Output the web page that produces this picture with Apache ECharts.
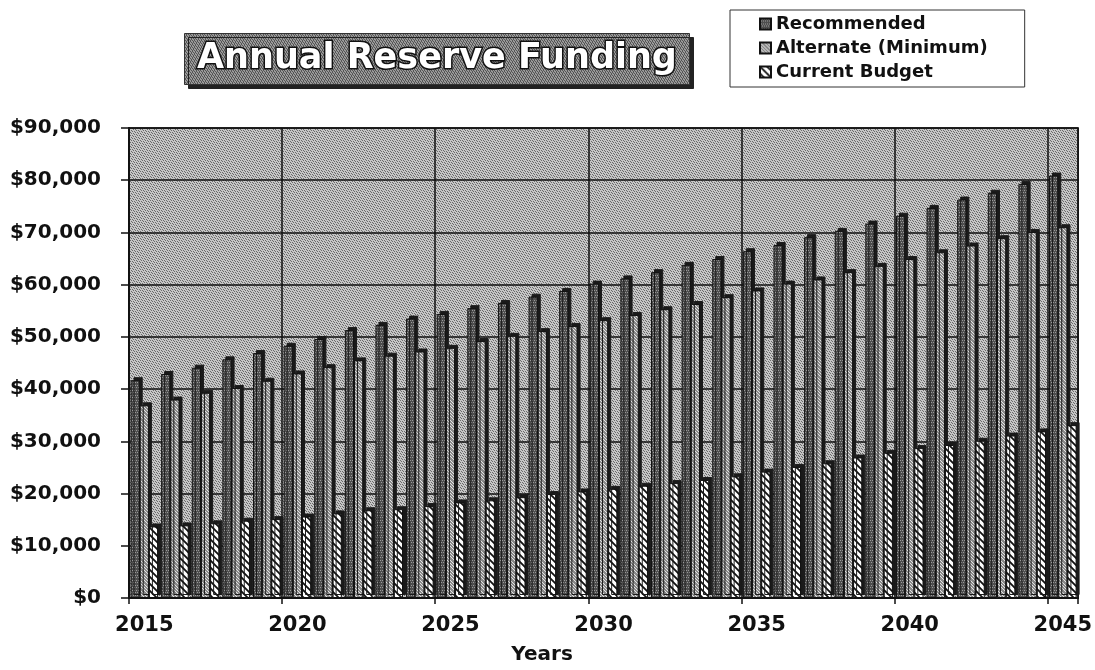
<!DOCTYPE html>
<html>
<head>
<meta charset="utf-8">
<style>
  html, body { margin: 0; padding: 0; background: #ffffff; }
  #chart { width: 1095px; height: 670px; }
</style>
<script src="https://cdn.jsdelivr.net/npm/echarts@6/dist/echarts.min.js"></script>
</head>
<body>
<div id="chart"></div>
<script>
// ---- data ----
const years = ['2015','2016','2017','2018','2019','2020','2021','2022','2023','2024',
               '2025','2026','2027','2028','2029','2030','2031','2032','2033','2034',
               '2035','2036','2037','2038','2039','2040','2041','2042','2043','2044','2045'];
const recommended = [41700, 42900, 44100, 45700, 46900, 48300, 49600, 51300, 52300, 53500,
                     54400, 55500, 56500, 57700, 58800, 60200, 61200, 62400, 63800, 64900,
                     66400, 67600, 69100, 70300, 71700, 73200, 74700, 76300, 77600, 79300, 80900];
const alternate = [36900, 38000, 39300, 40200, 41600, 43000, 44200, 45500, 46400, 47200,
                   47900, 49200, 50200, 51100, 52100, 53200, 54200, 55300, 56300, 57600,
                   58900, 60200, 61000, 62400, 63600, 64900, 66200, 67500, 68900, 70100, 71000];
const currentBudget = [13700, 13900, 14300, 14800, 15100, 15600, 16200, 16800, 17000, 17600,
                       18300, 18700, 19300, 19900, 20400, 20900, 21500, 22000, 22600, 23300,
                       24200, 25100, 25800, 26900, 27800, 28700, 29300, 30100, 31100, 31900, 33100];
const seriesNames = ['Recommended', 'Alternate (Minimum)', 'Current Budget'];
const yMin = 0, yMax = 90000, yStep = 10000;

// ---- texture helpers (deterministic, style only) ----
function stipple(bg, fg, test, size) {
  const c = document.createElement('canvas');
  c.width = size; c.height = size;
  const ctx = c.getContext('2d');
  ctx.fillStyle = bg; ctx.fillRect(0, 0, size, size);
  ctx.fillStyle = fg;
  for (let y = 0; y < size; y++) for (let x = 0; x < size; x++) {
    if (test(x, y)) ctx.fillRect(x, y, 1, 1);
  }
  return { image: c, repeat: 'repeat' };
}
function hatch() {
  const s = 7;
  const c = document.createElement('canvas');
  c.width = s; c.height = s;
  const ctx = c.getContext('2d');
  ctx.fillStyle = '#ffffff'; ctx.fillRect(0, 0, s, s);
  ctx.strokeStyle = '#111111'; ctx.lineWidth = 1.8;
  ctx.beginPath();
  ctx.moveTo(-1, -1); ctx.lineTo(s + 1, s + 1);
  ctx.moveTo(-1, s - 1); ctx.lineTo(1, s + 1);
  ctx.moveTo(s - 1, -1); ctx.lineTo(s + 1, 1);
  ctx.stroke();
  return { image: c, repeat: 'repeat' };
}
const bgPattern = stipple('#c6c6c6', '#6a6a6a', (x, y) => (x * 3 + y * 5) % 7 < 2, 14);
const titlePattern = stipple('#9a9a9a', '#555555', (x, y) => (x * 3 + y * 5) % 7 < 3, 14);
const recPattern = stipple('#4e4e4e', '#9a9a9a', (x, y) => (x * 5 + y * 3) % 10 < 2, 10);
const altPattern = stipple('#8a8a8a', '#e2e2e2', (x, y) => (x * 3 + y * 7) % 10 < 3, 10);
const curPattern = hatch();

const FONT = 'DejaVu Sans';
const barStyle = (pat) => ({
  color: pat,
  borderColor: '#111',
  borderWidth: 1,
  shadowColor: '#1a1a1a',
  shadowBlur: 0,
  shadowOffsetX: 3,
  shadowOffsetY: -3
});

const chart = echarts.init(document.getElementById('chart'), null, { renderer: 'canvas' });
chart.setOption({
  animation: false,
  backgroundColor: '#ffffff',
  title: {
    text: 'Annual Reserve Funding',
    left: 186, top: 35,
    padding: [6, 11, 7, 11],
    backgroundColor: titlePattern,
    borderColor: '#333', borderWidth: 1,
    shadowColor: '#222', shadowBlur: 0, shadowOffsetX: 4, shadowOffsetY: 4,
    textStyle: {
      fontFamily: FONT, fontWeight: 'bold', fontSize: 35, color: '#ffffff',
      textBorderColor: '#111', textBorderWidth: 3,
      textShadowColor: '#000', textShadowOffsetX: 2, textShadowOffsetY: 2, textShadowBlur: 0
    }
  },
  legend: {
    orient: 'vertical',
    left: 730, top: 10,
    padding: [4, 37, 5, 29],
    borderColor: '#333', borderWidth: 1,
    itemWidth: 11, itemHeight: 11, itemGap: 4,
    icon: 'rect',
    data: seriesNames,
    textStyle: { fontFamily: FONT, fontWeight: 'bold', fontSize: 18, color: '#111', lineHeight: 20 }
  },
  grid: {
    left: 129, right: 14, top: 128, bottom: 70,
    show: true, backgroundColor: bgPattern, borderColor: '#111', borderWidth: 1.5
  },
  xAxis: {
    type: 'category',
    data: years,
    boundaryGap: true,
    name: 'Years',
    nameLocation: 'middle',
    nameGap: 47,
    nameTextStyle: { fontFamily: FONT, fontWeight: 'bold', fontSize: 20, color: '#111', padding: [0, 123, 0, 0] },
    axisLine: { show: true, lineStyle: { color: '#111', width: 2 } },
    axisTick: { show: true, interval: 4, length: 6, lineStyle: { color: '#111', width: 1.5 } },
    axisLabel: { interval: 4, margin: 17, fontFamily: FONT, fontWeight: 'bold', fontSize: 21, color: '#111' },
    splitLine: { show: true, interval: 4, lineStyle: { color: '#111', width: 1.5 } }
  },
  yAxis: {
    type: 'value',
    min: yMin, max: yMax, interval: yStep,
    axisLine: { show: true, lineStyle: { color: '#111', width: 2 } },
    axisTick: { show: true, length: 8, lineStyle: { color: '#111', width: 1.5 } },
    axisLabel: {
      margin: 28, fontFamily: FONT, fontWeight: 'bold', fontSize: 20, color: '#111',
      formatter: (v) => '$' + v.toLocaleString('en-US')
    },
    splitLine: { show: true, lineStyle: { color: '#111', width: 1.5 } }
  },
  series: [
    { name: seriesNames[0], type: 'bar', data: recommended, barGap: '0%', barCategoryGap: '10%', itemStyle: barStyle(recPattern) },
    { name: seriesNames[1], type: 'bar', data: alternate, barGap: '0%', barCategoryGap: '10%', itemStyle: barStyle(altPattern) },
    { name: seriesNames[2], type: 'bar', data: currentBudget, barGap: '0%', barCategoryGap: '10%', itemStyle: barStyle(curPattern) }
  ]
});
</script>
</body>
</html>
